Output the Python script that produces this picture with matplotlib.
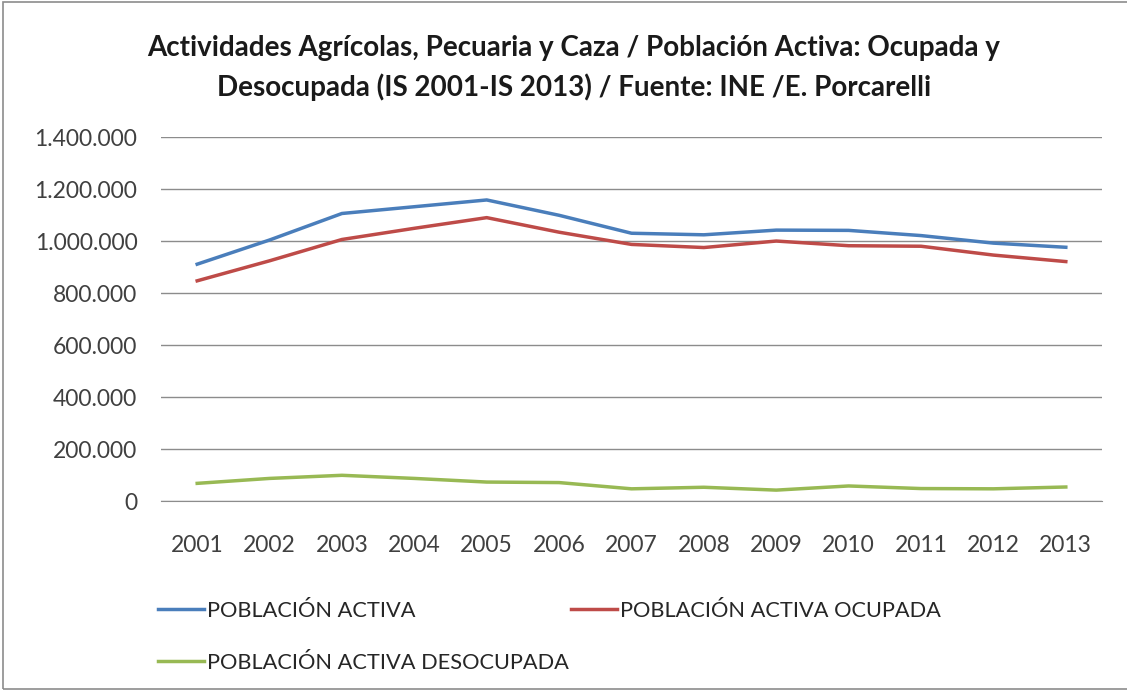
import matplotlib
matplotlib.use("Agg")
import matplotlib.pyplot as plt
from matplotlib.ticker import FuncFormatter

years = ["2001", "2002", "2003", "2004", "2005", "2006", "2007",
         "2008", "2009", "2010", "2011", "2012", "2013"]
activa = [912000, 1005000, 1107000, 1133000, 1159000, 1100000, 1031000,
          1025000, 1043000, 1042000, 1022000, 993000, 977000]
ocupada = [848000, 925000, 1007000, 1050000, 1091000, 1035000, 988000,
           976000, 1001000, 983000, 981000, 947000, 922000]
desocupada = [69000, 88000, 100000, 88000, 74000, 72000, 48000,
              54000, 43000, 59000, 49000, 48000, 55000]
series_names = ["POBLACIÓN ACTIVA", "POBLACIÓN ACTIVA OCUPADA",
                "POBLACIÓN ACTIVA DESOCUPADA"]
title = ("Actividades Agrícolas, Pecuaria y Caza / Población Activa: Ocupada y\n"
         "Desocupada (IS 2001-IS 2013) / Fuente: INE /E. Porcarelli")

plt.rcParams['font.family'] = ['Lato', 'DejaVu Sans']

W, H = 1127, 693
fig = plt.figure(figsize=(W / 100, H / 100), dpi=100)

# chart border
fig.add_artist(plt.Rectangle((3 / W, 1 - 689 / H), 1.2, (689 - 2) / H,
                             transform=fig.transFigure, fill=False,
                             edgecolor="#8c8c8c", linewidth=1.2))

left, right, top, bottom = 161, 1102, 137.3, 501.3
ax = fig.add_axes([left / W, 1 - bottom / H, (right - left) / W, (bottom - top) / H])

x = list(range(len(years)))
c_blue, c_red, c_green = "#4A7EBB", "#BE4B48", "#98B954"
l1, = ax.plot(x, activa, color=c_blue, lw=2.5, solid_joinstyle="round")
l2, = ax.plot(x, ocupada, color=c_red, lw=2.5, solid_joinstyle="round")
l3, = ax.plot(x, desocupada, color=c_green, lw=2.5, solid_joinstyle="round")

ax.set_xlim(-0.5, len(years) - 0.5)
ax.set_ylim(0, 1400000)
ax.set_yticks(range(0, 1400001, 200000))
ax.yaxis.set_major_formatter(FuncFormatter(lambda v, p: f"{int(v):,}".replace(",", ".")))
ax.set_xticks(x)
ax.set_xticklabels(years)
ax.grid(axis="y", color="#8c8c8c", lw=1)
ax.set_axisbelow(True)
for s in ["top", "right", "left"]:
    ax.spines[s].set_visible(False)
ax.spines["bottom"].set_color("#8c8c8c")
ax.tick_params(axis="both", length=0, labelsize=16.5, colors="#404040")
ax.tick_params(axis="y", pad=17)
ax.tick_params(axis="x", pad=24)

fig.text(574 / W, 1 - 68 / H, title, ha="center", va="center",
         fontsize=20, fontweight="bold", color="#1a1a1a", linespacing=1.55)

leg = fig.legend([l1, l3, l2], [series_names[0], series_names[2], series_names[1]],
                 ncol=2, loc="upper left", bbox_to_anchor=(158 / W, 1 - 601 / H),
                 frameon=False, fontsize=15.7, handlelength=2.1, handletextpad=0.15,
                 columnspacing=0.1, labelspacing=1.45, borderaxespad=0,
                 borderpad=0)
for t in leg.get_texts():
    t.set_color("#262626")

fig.savefig("out.png", dpi=100)
